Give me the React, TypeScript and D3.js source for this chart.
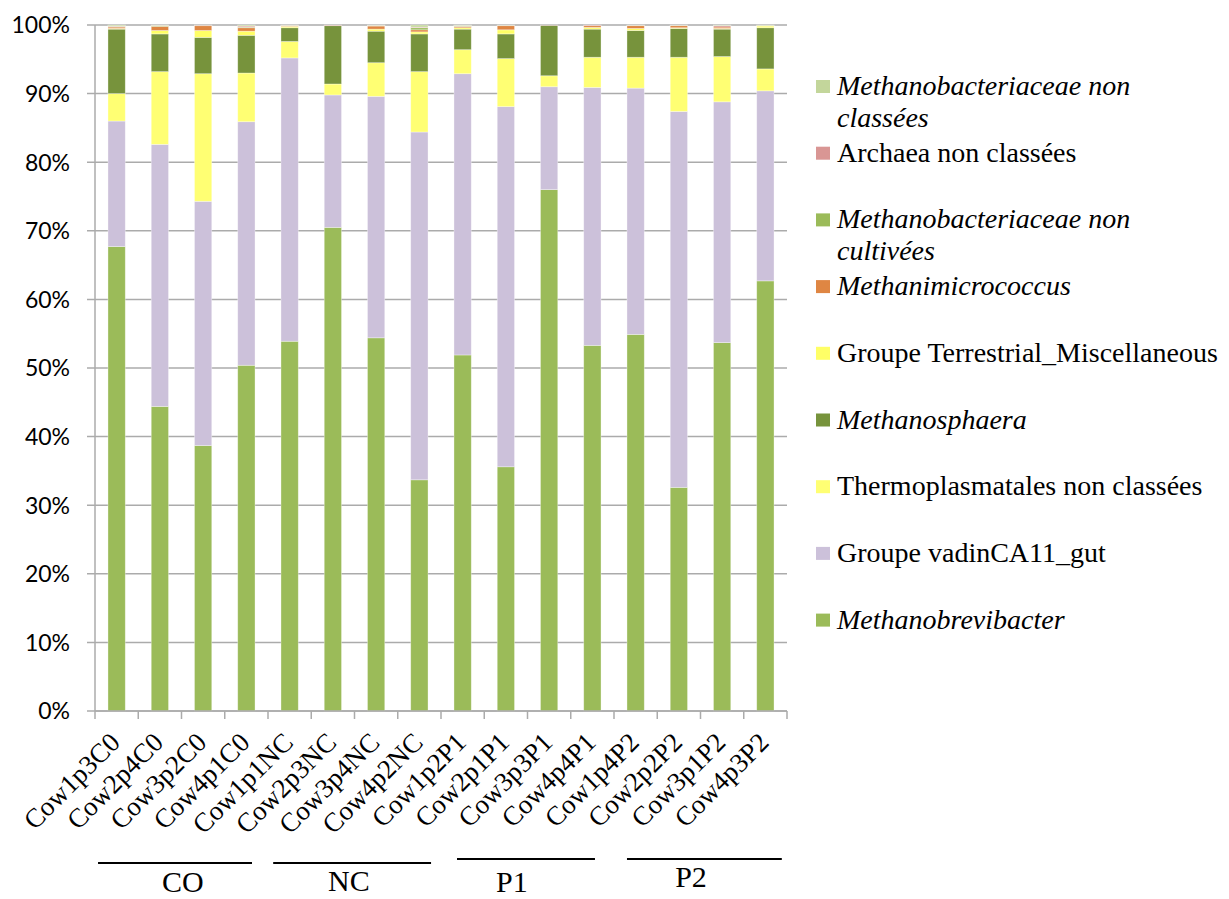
import React from "react";
import * as d3 from "d3";

const categories = [
  "Cow1p3C0", "Cow2p4C0", "Cow3p2C0", "Cow4p1C0",
  "Cow1p1NC", "Cow2p3NC", "Cow3p4NC", "Cow4p2NC",
  "Cow1p2P1", "Cow2p1P1", "Cow3p3P1", "Cow4p4P1",
  "Cow1p4P2", "Cow2p2P2", "Cow3p1P2", "Cow4p3P2",
];

// series, bottom to top
const methanobrevibacter = [67.7, 44.4, 38.7, 50.4, 53.9, 70.5, 54.4, 33.7, 51.9, 35.6, 76.0, 53.3, 54.9, 32.6, 53.7, 62.7];
const vadinCA11 = [18.3, 38.2, 35.6, 35.5, 41.3, 19.3, 35.2, 50.7, 41.0, 52.5, 15.0, 37.6, 35.9, 54.8, 35.1, 27.7];
const thermoplasmatales = [4.0, 10.6, 18.6, 7.1, 2.4, 1.6, 4.9, 8.8, 3.5, 7.0, 1.6, 4.4, 4.5, 7.9, 6.6, 3.2];
const methanosphaera = [9.4, 5.5, 5.3, 5.5, 2.0, 8.5, 4.6, 5.5, 3.0, 3.6, 7.35, 4.1, 3.9, 4.2, 4.0, 6.0];
const terrestrial = [0.1, 0.5, 1.0, 0.6, 0.2, 0.0, 0.3, 0.3, 0.2, 0.6, 0.0, 0.25, 0.3, 0.1, 0.1, 0.25];
const methanimicrococcus = [0.2, 0.6, 0.7, 0.5, 0.1, 0.05, 0.45, 0.3, 0.2, 0.6, 0.0, 0.25, 0.4, 0.3, 0.2, 0.05];
const methanobactNonCultivees = [0.1, 0.1, 0.05, 0.1, 0.0, 0.0, 0.05, 0.3, 0.05, 0.0, 0.0, 0.0, 0.0, 0.0, 0.0, 0.0];
const archaeaNonClassees = [0.05, 0.05, 0.05, 0.15, 0.05, 0.05, 0.05, 0.1, 0.05, 0.05, 0.05, 0.1, 0.05, 0.05, 0.2, 0.0];
const methanobactNonClassees = [0.15, 0.05, 0.0, 0.15, 0.05, 0.0, 0.05, 0.3, 0.1, 0.05, 0.0, 0.0, 0.05, 0.05, 0.1, 0.1];

const seriesKeys = [
  "Methanobrevibacter",
  "Groupe vadinCA11_gut",
  "Thermoplasmatales non classées",
  "Methanosphaera",
  "Groupe Terrestrial_Miscellaneous",
  "Methanimicrococcus",
  "Methanobacteriaceae non cultivées",
  "Archaea non classées",
  "Methanobacteriaceae non classées",
];
const seriesValues = [
  methanobrevibacter, vadinCA11, thermoplasmatales, methanosphaera, terrestrial,
  methanimicrococcus, methanobactNonCultivees, archaeaNonClassees, methanobactNonClassees,
];
const seriesColors = [
  "#9BBB59", "#CCC1DA", "#FFFF73", "#77933C", "#FFFF66",
  "#DF8643", "#9BBB59", "#D99694", "#C3D69B",
];
const seriesItalic = [true, false, false, true, false, true, true, false, true];
// legend label lines (as wrapped in the picture)
const legendLines = [
  ["Methanobrevibacter"],
  ["Groupe vadinCA11_gut"],
  ["Thermoplasmatales non classées"],
  ["Methanosphaera"],
  ["Groupe Terrestrial_Miscellaneous"],
  ["Methanimicrococcus"],
  ["Methanobacteriaceae non", "cultivées"],
  ["Archaea non classées"],
  ["Methanobacteriaceae non", "classées"],
];

const yTicks = [0, 10, 20, 30, 40, 50, 60, 70, 80, 90, 100];
// group brackets, in fractional category positions
const groupNames = ["CO", "NC", "P1", "P2"];
const groupStart = [0.07, 4.12, 8.37, 12.3];
const groupEnd = [3.63, 7.77, 11.56, 15.88];
const groupLabelPos = [2.03, 5.87, 9.64, 13.78];

export default function App() {
  const W = 1229, H = 899;
  const left = 95, right = 787, top = 25, bottom = 711;

  const x = d3.scaleBand<string>().domain(categories).range([left, right]).paddingInner(0.6).paddingOuter(0.3);
  const y = d3.scaleLinear().domain([0, 100]).range([bottom, top]);
  const step = x.step();
  const gx = d3.scaleLinear().domain([0, categories.length]).range([left, right]);

  const table = categories.map((c, i) => {
    const row: any = { cat: c };
    seriesKeys.forEach((k, s) => (row[k] = seriesValues[s][i]));
    return row;
  });
  const stacked = d3.stack<any>().keys(seriesKeys)(table);

  const serif = "'Liberation Serif', 'Times New Roman', serif";
  const sans = "Lato, 'Liberation Sans', sans-serif";

  const groupLineY = [863, 863, 859, 859];
  const groupTextY = [892, 891, 892, 887];

  return (
    <svg width={W} height={H} style={{ position: "absolute", left: 0, top: 0, background: "#fff" }}>
      {/* gridlines */}
      {yTicks.map((t) => (
        <line key={"g" + t} x1={left - 8} x2={right} y1={y(t)} y2={y(t)} stroke="#ABABAB" strokeWidth={1.5} />
      ))}
      {/* bars */}
      {stacked.map((layer, s) => (
        <g key={layer.key} fill={seriesColors[s]}>
          {layer.map((d, i) => {
            const h = y(d[0]) - y(d[1]);
            if (h <= 0) return null;
            return (
              <rect
                key={i}
                x={x(categories[i])}
                width={x.bandwidth()}
                y={y(d[1])}
                height={h}
                stroke="#ffffff"
                strokeOpacity={0.45}
                strokeWidth={0.75}
              />
            );
          })}
        </g>
      ))}
      {/* y axis */}
      <line x1={left} x2={left} y1={top} y2={bottom} stroke="#ABABAB" strokeWidth={1.5} />
      {yTicks.map((t) => (
        <text key={"yt" + t} x={70} y={y(t) + 8.3} textAnchor="end" fontFamily={sans} fontSize={23} fill="#000">
          {t + "%"}
        </text>
      ))}
      {/* x axis */}
      <line x1={left} x2={right} y1={bottom} y2={bottom} stroke="#ABABAB" strokeWidth={1.5} />
      {d3.range(categories.length + 1).map((i) => (
        <line key={"xt" + i} x1={left + i * step} x2={left + i * step} y1={bottom} y2={bottom + 8} stroke="#ABABAB" strokeWidth={1.5} />
      ))}
      {categories.map((c) => {
        const cx = (x(c) as number) + x.bandwidth() / 2 + 5;
        const cy = bottom + 33;
        return (
          <text key={"xl" + c} x={cx} y={cy} transform={`rotate(-45 ${cx} ${cy})`} textAnchor="end" fontFamily={serif} fontSize={27} fill="#000">
            {c}
          </text>
        );
      })}
      {/* group annotations */}
      {groupNames.map((name, gi) => (
        <g key={name}>
          <line x1={gx(groupStart[gi])} x2={gx(groupEnd[gi])} y1={groupLineY[gi]} y2={groupLineY[gi]} stroke="#000" strokeWidth={2} />
          <text x={gx(groupLabelPos[gi])} y={groupTextY[gi]} textAnchor="middle" fontFamily={serif} fontSize={30} fill="#000">
            {name}
          </text>
        </g>
      ))}
      {/* legend */}
      {seriesKeys
        .map((k, s) => ({ k, s }))
        .reverse()
        .map(({ k, s }, i) => {
          const base = 95 + i * 66.7;
          return (
            <g key={"lg" + k}>
              <rect x={816} y={base - 15} width={14} height={13} fill={seriesColors[s]} />
              <text x={837} y={base} fontFamily={serif} fontSize={28} fontStyle={seriesItalic[s] ? "italic" : "normal"} fill="#000">
                {legendLines[s].map((ln, li) => (
                  <tspan key={li} x={837} dy={li === 0 ? 0 : 32}>
                    {ln}
                  </tspan>
                ))}
              </text>
            </g>
          );
        })}
    </svg>
  );
}
